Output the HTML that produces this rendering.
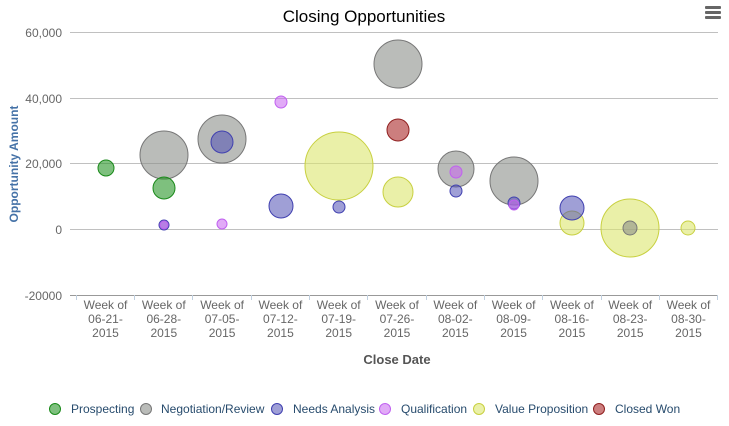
<!DOCTYPE html><html><head><style>body{margin:0;background:#fff}svg{font-family:"Liberation Sans",sans-serif}</style></head><body>
<svg width="729" height="421" xmlns="http://www.w3.org/2000/svg">
<text x="364" y="22" text-anchor="middle" font-size="17" fill="#000">Closing Opportunities</text>
<g fill="#666"><rect x="705" y="6" width="16" height="3" rx="1"/><rect x="705" y="11" width="16" height="3" rx="1"/><rect x="705" y="16" width="16" height="3" rx="1"/></g>
<g stroke="#c0c0c0" stroke-width="1">
<line x1="70" y1="32.5" x2="718" y2="32.5"/><line x1="70" y1="98.5" x2="718" y2="98.5"/><line x1="70" y1="163.5" x2="718" y2="163.5"/><line x1="70" y1="229.5" x2="718" y2="229.5"/></g>
<line x1="70" y1="295.5" x2="718" y2="295.5" stroke="#999"/>
<g stroke="#c0d0e0"><line x1="76.5" y1="295" x2="76.5" y2="300"/><line x1="134.5" y1="295" x2="134.5" y2="300"/><line x1="192.5" y1="295" x2="192.5" y2="300"/><line x1="251.5" y1="295" x2="251.5" y2="300"/><line x1="309.5" y1="295" x2="309.5" y2="300"/><line x1="367.5" y1="295" x2="367.5" y2="300"/><line x1="426.5" y1="295" x2="426.5" y2="300"/><line x1="484.5" y1="295" x2="484.5" y2="300"/><line x1="542.5" y1="295" x2="542.5" y2="300"/><line x1="601.5" y1="295" x2="601.5" y2="300"/><line x1="659.5" y1="295" x2="659.5" y2="300"/><line x1="717.5" y1="295" x2="717.5" y2="300"/></g>
<g font-size="12" fill="#666" text-anchor="end"><text x="62" y="37">60,000</text><text x="62" y="103">40,000</text><text x="62" y="168">20,000</text><text x="62" y="234">0</text><text x="62" y="300">-20000</text></g>
<text transform="translate(18,164) rotate(-90)" text-anchor="middle" font-size="12" font-weight="bold" fill="#4572a7">Opportunity Amount</text>
<g font-size="12" fill="#666" text-anchor="middle">
<text x="105.5" y="309">Week of</text><text x="105.5" y="323">06-21-</text><text x="105.5" y="337">2015</text>
<text x="163.8" y="309">Week of</text><text x="163.8" y="323">06-28-</text><text x="163.8" y="337">2015</text>
<text x="222.1" y="309">Week of</text><text x="222.1" y="323">07-05-</text><text x="222.1" y="337">2015</text>
<text x="280.4" y="309">Week of</text><text x="280.4" y="323">07-12-</text><text x="280.4" y="337">2015</text>
<text x="338.7" y="309">Week of</text><text x="338.7" y="323">07-19-</text><text x="338.7" y="337">2015</text>
<text x="397" y="309">Week of</text><text x="397" y="323">07-26-</text><text x="397" y="337">2015</text>
<text x="455.3" y="309">Week of</text><text x="455.3" y="323">08-02-</text><text x="455.3" y="337">2015</text>
<text x="513.6" y="309">Week of</text><text x="513.6" y="323">08-09-</text><text x="513.6" y="337">2015</text>
<text x="571.9" y="309">Week of</text><text x="571.9" y="323">08-16-</text><text x="571.9" y="337">2015</text>
<text x="630.2" y="309">Week of</text><text x="630.2" y="323">08-23-</text><text x="630.2" y="337">2015</text>
<text x="688.5" y="309">Week of</text><text x="688.5" y="323">08-30-</text><text x="688.5" y="337">2015</text>
</g>
<text x="397" y="364" text-anchor="middle" font-size="13" font-weight="bold" fill="#555">Close Date</text>
<!-- gray -->
<g fill="rgba(140,143,138,0.6)" stroke="#777"><circle cx="164" cy="155" r="24"/><circle cx="222" cy="139" r="24"/><circle cx="398" cy="64" r="24"/><circle cx="456" cy="169" r="18"/><circle cx="514" cy="181" r="24"/></g>
<g fill="rgba(220,230,110,0.6)" stroke="#c8d040"><circle cx="339" cy="166" r="34"/><circle cx="398" cy="192" r="15"/><circle cx="572" cy="223" r="12"/><circle cx="630" cy="228" r="29"/><circle cx="688" cy="228" r="7"/></g>
<circle cx="630" cy="228" r="7" fill="rgba(140,143,138,0.6)" stroke="#777"/>
<g fill="rgba(40,150,40,0.6)" stroke="#1a8a1a"><circle cx="106" cy="168" r="8"/><circle cx="164" cy="188" r="11"/></g>
<g fill="rgba(80,80,180,0.55)" stroke="#4040b0"><circle cx="222" cy="142" r="11"/><circle cx="281" cy="206" r="12"/><circle cx="339" cy="207" r="6"/><circle cx="456" cy="191" r="6"/><circle cx="514" cy="203" r="6"/><circle cx="572" cy="208" r="12"/><circle cx="164" cy="225" r="5"/></g>
<g fill="rgba(200,100,240,0.55)" stroke="#c060f0"><circle cx="281" cy="102" r="6"/><circle cx="222" cy="224" r="5"/><circle cx="456" cy="172" r="6"/><circle cx="514" cy="205" r="5"/><circle cx="164" cy="225" r="4"/></g>
<circle cx="398" cy="130" r="11" fill="rgba(170,40,40,0.6)" stroke="#902020"/>
<g font-size="12" fill="#274b6d">
<circle cx="55" cy="409" r="5.5" fill="rgba(40,150,40,0.6)" stroke="#1a8a1a"/><text x="71" y="413">Prospecting</text>
<circle cx="146" cy="409" r="5.5" fill="rgba(140,143,138,0.6)" stroke="#777"/><text x="161" y="413">Negotiation/Review</text>
<circle cx="277" cy="409" r="5.5" fill="rgba(80,80,180,0.55)" stroke="#4040b0"/><text x="293" y="413">Needs Analysis</text>
<circle cx="385" cy="409" r="5.5" fill="rgba(200,100,240,0.55)" stroke="#c060f0"/><text x="401" y="413">Qualification</text>
<circle cx="479" cy="409" r="5.5" fill="rgba(220,230,110,0.6)" stroke="#c8d040"/><text x="495" y="413">Value Proposition</text>
<circle cx="599" cy="409" r="5.5" fill="rgba(170,40,40,0.6)" stroke="#902020"/><text x="615" y="413">Closed Won</text>
</g>
</svg></body></html>
